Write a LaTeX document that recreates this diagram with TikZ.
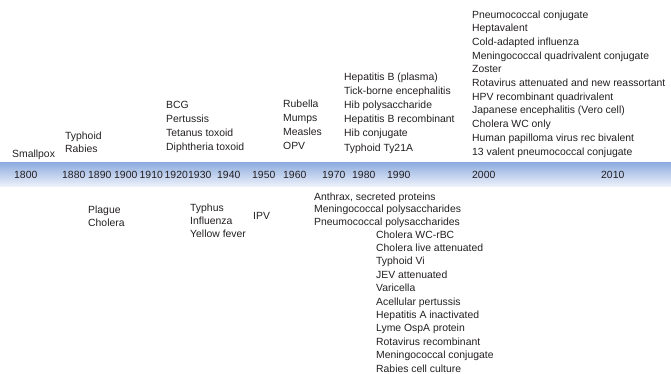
\documentclass[tikz,border=0pt]{standalone}
\usepackage{fontspec}
\setmainfont{Liberation Sans}
\definecolor{txt}{RGB}{35,31,32}
\definecolor{bandtop}{RGB}{140,170,222}
\definecolor{bandbot}{RGB}{236,241,250}
\begin{document}
\begin{tikzpicture}[x=1pt,y=-1pt,
  lbl/.style={anchor=base west, inner sep=0pt, font=\fontsize{10.4}{12}\selectfont, text=txt}]
\useasboundingbox (0,0) rectangle (671,373);
% timeline band
\shade[top color=bandtop, bottom color=bandbot] (0,162) rectangle (671,186);
% years
\foreach \x/\yr in {14/1800,62/1880,88/1890,114/1900,139.5/1910,164.5/1920,188/1930,217/1940,252/1950,283/1960,322/1970,352/1980,387/1990,472/2000,601/2010}
  {\node[lbl] (yr\yr) at (\x,178) {\yr};}
% above the band
\node[lbl] (smallpox) at (12,157) {Smallpox};
\foreach \t [count=\i from 0] in {Typhoid,Rabies}
  {\node[lbl] (ty\i) at (65,{139+13.7*\i}) {\t};}
\foreach \t [count=\i from 0] in {BCG,Pertussis,Tetanus toxoid,Diphtheria toxoid}
  {\node[lbl] (bcg\i) at (166,{108+14.3*\i}) {\t};}
\foreach \t [count=\i from 0] in {Rubella,Mumps,Measles,OPV}
  {\node[lbl] (rub\i) at (283,{107+14.3*\i}) {\t};}
\foreach \t [count=\i from 0] in {Hepatitis B (plasma),Tick-borne encephalitis,Hib polysaccharide,Hepatitis B recombinant,Hib conjugate,Typhoid Ty21A}
  {\node[lbl] (hep\i) at (344,{80+14.2*\i}) {\t};}
\foreach \t [count=\i from 0] in {Pneumococcal conjugate,Heptavalent,Cold-adapted influenza,Meningococcal quadrivalent conjugate,Zoster,Rotavirus attenuated and new reassortant,HPV recombinant quadrivalent,Japanese encephalitis (Vero cell),Cholera WC only,Human papilloma virus rec bivalent,13 valent pneumococcal conjugate}
  {\node[lbl] (pn\i) at (472,{18+13.7*\i}) {\t};}
% below the band
\foreach \t [count=\i from 0] in {Plague,Cholera}
  {\node[lbl] (pl\i) at (88,{213+13*\i}) {\t};}
\foreach \t [count=\i from 0] in {Typhus,Influenza,Yellow fever}
  {\node[lbl] (tyf\i) at (190,{211+13*\i}) {\t};}
\node[lbl] (ipv) at (253,219) {IPV};
\foreach \t [count=\i from 0] in {{Anthrax, secreted proteins},Meningococcal polysaccharides,Pneumococcal polysaccharides}
  {\node[lbl] (an\i) at (314,{200+12.8*\i}) {\t};}
\foreach \t [count=\i from 0] in {Cholera WC-rBC,Cholera live attenuated,Typhoid Vi,JEV attenuated,Varicella,Acellular pertussis,Hepatitis A inactivated,Lyme OspA protein,Rotavirus recombinant,Meningococcal conjugate,Rabies cell culture}
  {\node[lbl] (ch\i) at (376,{238+13.4*\i}) {\t};}
\end{tikzpicture}
\end{document}
